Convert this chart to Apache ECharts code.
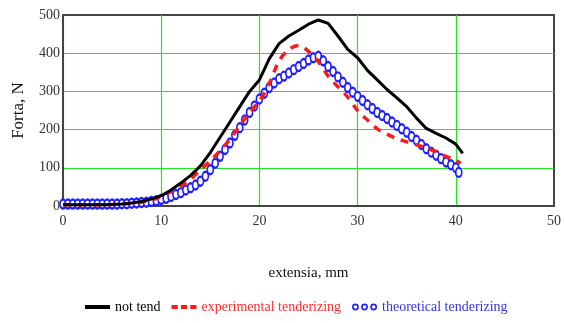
<!DOCTYPE html>
<html>
<head>
<meta charset="utf-8">
<script src="https://cdn.jsdelivr.net/npm/echarts@6/dist/echarts.min.js"></script>
<style>
  html, body { margin: 0; padding: 0; background: #fff; }
  #chart { width: 564px; height: 323px; }
</style>
</head>
<body>
<div id="chart"></div>
<script>
// values (extension in mm, force in N)
const notTendX = [0, 1, 2, 3, 4, 5, 6, 7, 8, 9, 10, 11, 12, 13, 14, 15, 16, 17, 18, 19, 20,
  21, 22, 23, 24, 25, 26, 27, 28, 29, 30, 31, 32, 33, 34, 35, 36, 37, 38, 39, 40, 40.7]
const notTendY = [3, 3, 3, 3, 3, 4, 5, 8, 12, 18, 27, 42, 60, 80, 105, 140, 180, 220, 260, 300, 330,
  385, 425, 445, 460, 476, 487, 478, 445, 410, 388, 355, 330, 305, 283, 260, 230, 203, 190, 178, 162, 138]

const expX = [0, 1, 2, 3, 4, 5, 6, 7, 8, 9, 10, 11, 12, 13, 14, 15, 16, 17, 18, 19, 20,
  21, 22, 23, 24, 25, 26, 27, 28, 29, 30, 31, 32, 33, 34, 35, 36, 37, 38, 39, 40, 40.5]
const expY = [3, 3, 3, 3, 3, 4, 5, 7, 10, 15, 25, 38, 52, 70, 95, 118, 145, 175, 210, 245, 275,
  320, 380, 410, 420, 405, 378, 340, 312, 285, 250, 225, 202, 188, 176, 168, 160, 152, 142, 130, 120, 112]

const theoX = [0, 0.5, 1, 1.5, 2, 2.5, 3, 3.5, 4, 4.5, 5, 5.5, 6, 6.5, 7, 7.5, 8, 8.5, 9, 9.5,
  10, 10.5, 11, 11.5, 12, 12.5, 13, 13.5, 14, 14.5, 15, 15.5, 16, 16.5, 17, 17.5, 18, 18.5, 19, 19.5,
  20, 20.5, 21, 21.5, 22, 22.5, 23, 23.5, 24, 24.5, 25, 25.5, 26, 26.5, 27, 27.5, 28, 28.5, 29, 29.5,
  30, 30.5, 31, 31.5, 32, 32.5, 33, 33.5, 34, 34.5, 35, 35.5, 36, 36.5, 37, 37.5, 38, 38.5, 39, 39.5,
  40, 40.3]
const theoY = [5, 5, 5, 5, 5, 5, 5, 5, 5, 5, 5, 5, 6, 6, 7, 8, 9, 10, 12, 14,
  17, 20, 25, 30, 35, 42, 48, 55, 65, 78, 95, 112, 130, 148, 165, 185, 205, 225, 245, 262,
  280, 295, 310, 322, 333, 340, 348, 357, 365, 373, 382, 388, 392, 380, 365, 352, 338, 324, 310, 298,
  287, 276, 265, 255, 245, 237, 229, 220, 211, 202, 193, 182, 172, 161, 150, 141, 133, 124, 115, 108,
  100, 88]

const pairs = (xs, ys) => xs.map((x, i) => [x, ys[i]])

const serif = '"Liberation Serif", "DejaVu Serif", serif'
const gridGreen = '#22e622'
const frame = '#444'

const chart = echarts.init(document.getElementById('chart'), null, { renderer: 'canvas' })

// legend icons
const solidIcon = 'path://M0,3h25v4h-25z'
const dashIcon = 'path://M0,3h6v4h-6zM9,3h6v4h-6zM18,3h6v4h-6z'
const ringsIcon = 'path://M2,5a3,3 0 1,1 6,0a3,3 0 1,1 -6,0zM3.4,5a1.6,1.6 0 1,0 3.2,0a1.6,1.6 0 1,0 -3.2,0z' +
  'M10,5a3,3 0 1,1 6,0a3,3 0 1,1 -6,0zM11.4,5a1.6,1.6 0 1,0 3.2,0a1.6,1.6 0 1,0 -3.2,0z' +
  'M18,5a3,3 0 1,1 6,0a3,3 0 1,1 -6,0zM19.4,5a1.6,1.6 0 1,0 3.2,0a1.6,1.6 0 1,0 -3.2,0z'

chart.setOption({
  animation: false,
  backgroundColor: '#fff',
  grid: {
    left: 63,
    right: 7,
    top: 15,
    bottom: 117,
    show: true,
    borderColor: frame,
    borderWidth: 2,
  },
  legend: {
    bottom: 4,
    left: 80,
    itemGap: 11,
    itemWidth: 25,
    itemHeight: 10,
    textStyle: { fontFamily: serif, fontSize: 14 },
    data: [
      { name: 'not tend', icon: solidIcon, textStyle: { color: '#000' } },
      { name: 'experimental tenderizing', icon: dashIcon, textStyle: { color: '#ff2a2a' } },
      { name: 'theoretical tenderizing', icon: ringsIcon, textStyle: { color: '#3434e0' } },
    ],
  },
  xAxis: {
    type: 'value',
    min: 0,
    max: 50,
    interval: 10,
    name: 'extensia, mm',
    nameLocation: 'middle',
    nameGap: 60,
    nameTextStyle: { fontFamily: serif, fontSize: 15, color: '#111' },
    axisLine: { lineStyle: { color: frame, width: 2 } },
    axisTick: { show: false },
    axisLabel: { fontFamily: serif, fontSize: 14, color: '#333', margin: 8 },
    splitLine: { show: true, showMaxLine: false, lineStyle: { color: gridGreen, width: 1.2 } },
  },
  yAxis: {
    type: 'value',
    min: 0,
    max: 500,
    interval: 100,
    name: 'Forta, N',
    nameLocation: 'middle',
    nameGap: 36,
    nameTextStyle: { fontFamily: serif, fontSize: 17, color: '#111' },
    axisLine: { show: true, lineStyle: { color: frame, width: 2 } },
    axisTick: { show: false },
    axisLabel: { fontFamily: serif, fontSize: 14, color: '#333', margin: 3 },
    splitLine: { show: true, showMaxLine: false, lineStyle: { color: gridGreen, width: 1.2 } },
  },
  series: [
    {
      name: 'theoretical tenderizing',
      type: 'line',
      data: pairs(theoX, theoY),
      symbol: 'emptyCircle',
      symbolSize: [6, 9],
      showAllSymbol: true,
      itemStyle: { color: '#2020ff', borderWidth: 1.4 },
      lineStyle: { color: '#2020ff', width: 1.5 },
      z: 2,
    },
    {
      name: 'experimental tenderizing',
      type: 'line',
      data: pairs(expX, expY),
      showSymbol: false,
      smooth: 0.3,
      itemStyle: { color: '#ff1a1a' },
      lineStyle: { color: '#ff1a1a', width: 3.5, type: [8, 7] },
      z: 3,
    },
    {
      name: 'not tend',
      type: 'line',
      data: pairs(notTendX, notTendY),
      showSymbol: false,
      itemStyle: { color: '#000' },
      lineStyle: { color: '#000', width: 3 },
      z: 4,
    },
  ],
})
</script>
</body>
</html>
